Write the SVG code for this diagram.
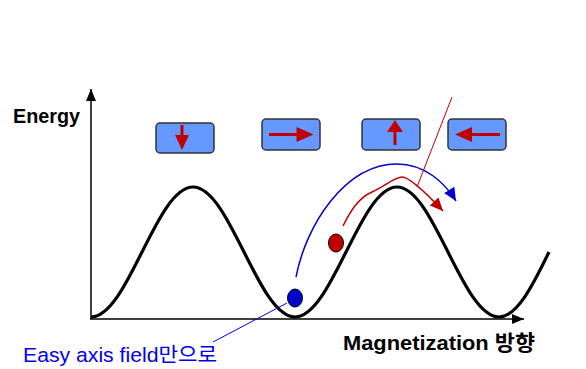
<svg xmlns="http://www.w3.org/2000/svg" width="586" height="369" viewBox="0 0 586 369">
<style>
.box{fill:#6699FF;stroke:#333333;stroke-width:1.5}
.arr{fill:#C00000;stroke:none}
.shaft{stroke:#C00000;stroke-width:3}
.axis{stroke:#000;stroke-width:1.5;fill:none}
.lbl{font-family:"Liberation Sans","Noto Sans CJK KR",sans-serif;font-weight:bold;fill:#000}
</style>
<defs>
<marker id="ax" markerUnits="userSpaceOnUse" markerWidth="14" markerHeight="12" refX="12" refY="5" orient="auto"><path d="M0,0 L12,5 L0,10 Z" fill="#000"/></marker>
<marker id="bh" markerUnits="userSpaceOnUse" markerWidth="16" markerHeight="14" refX="13" refY="6" orient="auto"><path d="M0,0 L13,6 L0,12 Z" fill="#0000CC"/></marker>
<marker id="rh" markerUnits="userSpaceOnUse" markerWidth="16" markerHeight="14" refX="13" refY="6" orient="auto"><path d="M0,0 L13,6 L0,12 Z" fill="#C00000"/></marker>
</defs>
<rect width="586" height="369" fill="#fff"/>
<g id="axes">
<line class="axis" x1="91" y1="319" x2="91" y2="89" marker-end="url(#ax)"/>
<line class="axis" x1="90" y1="319" x2="524" y2="319" marker-end="url(#ax)"/>
</g>
<g id="energy-curve">
<path d="M91,317 C128,317 156,187 193,187 C230,187 258,317 295,317 C332,317 360,187 397,187 C434,187 462,317 499,317 C517,317 533,285 549,252" fill="none" stroke="#000" stroke-width="3.2" stroke-linejoin="round"/>
</g>
<g id="box1"><rect class="box" x="156" y="123" width="58" height="30" rx="4"/><line class="shaft" x1="182" y1="125" x2="182" y2="137"/><path class="arr" d="M175,135 L189,135 L182,150 Z"/></g>
<g id="box2"><rect class="box" x="262" y="119" width="58" height="31" rx="4"/><line class="shaft" x1="269" y1="134.5" x2="298" y2="134.5"/><path class="arr" d="M296.5,127 L313.5,134.5 L296.5,142 Z"/></g>
<g id="box3"><rect class="box" x="362" y="119" width="58" height="31" rx="4"/><line class="shaft" x1="395" y1="145" x2="395" y2="130"/><path class="arr" d="M387,132 L395,120 L403,132 Z"/></g>
<g id="box4"><rect class="box" x="448" y="119" width="58" height="31" rx="4"/><line class="shaft" x1="500" y1="134.5" x2="470" y2="134.5"/><path class="arr" d="M472,127 L455,134.5 L472,142 Z"/></g>
<g id="connectors">
<path d="M296,277 C306,225 345,164 397,164 C425,164 445,183 456,201" fill="none" stroke="#0000CC" stroke-width="1.5" marker-end="url(#bh)"/>
<path d="M343,226 C350,212 358,198 372,192 C385,186 395,177 402,177 C410,177 428,195 443,211" fill="none" stroke="#C00000" stroke-width="1.5" marker-end="url(#rh)"/>
<line x1="452" y1="97" x2="417" y2="187" stroke="#C00000" stroke-width="1"/>
<line x1="287" y1="303" x2="213" y2="342" stroke="#0000EE" stroke-width="1"/>
</g>
<g id="blue-ball"><ellipse cx="295" cy="298" rx="7.5" ry="9" fill="#0000CC" stroke="#000" stroke-width="1"/></g>
<g id="red-ball"><ellipse cx="336" cy="243" rx="7.5" ry="9" fill="#C00000" stroke="#000" stroke-width="1"/></g>
<g id="labels">
<text class="lbl" x="13" y="123" font-size="20" textLength="67" lengthAdjust="spacingAndGlyphs">Energy</text>
<text class="lbl" x="343" y="350" font-size="21" textLength="192" lengthAdjust="spacingAndGlyphs">Magnetization 방향</text>
<text x="23" y="362" font-family="'Liberation Sans','Noto Sans CJK KR',sans-serif" font-size="20.5" fill="#0000EE" textLength="194" lengthAdjust="spacingAndGlyphs">Easy axis field만으로</text>
</g>
</svg>
